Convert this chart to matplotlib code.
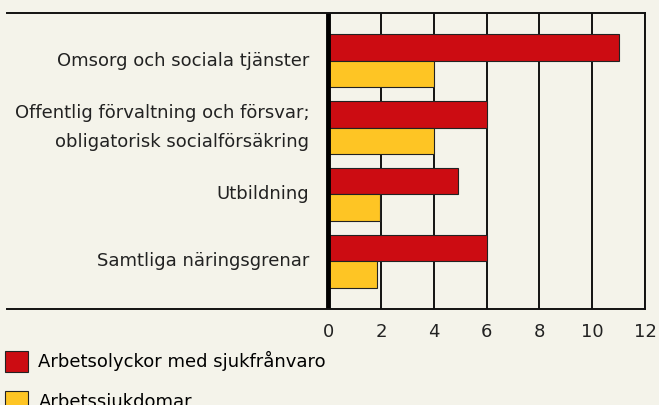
import matplotlib

matplotlib.use("Agg")
import matplotlib.pyplot as plt
import numpy as np
from matplotlib.lines import Line2D

categories = [
    "Omsorg och sociala tjänster",
    "Offentlig förvaltning och försvar;\nobligatorisk socialförsäkring",
    "Utbildning",
    "Samtliga näringsgrenar",
]
olyckor = [11.0, 6.0, 4.9, 6.0]
sjukdomar = [4.0, 4.0, 1.95, 1.85]
series_names = ["Arbetsolyckor med sjukfrånvaro", "Arbetssjukdomar"]
xticks = [0, 2, 4, 6, 8, 10, 12]

BG = "#f4f3ea"
RED = "#cc0c12"
YEL = "#fec524"

W, H = 659, 405
fig = plt.figure(figsize=(W / 100, H / 100), dpi=100, facecolor=BG)
ax = fig.add_axes([326 / W, 1 - 309 / H, (645 - 326) / W, (309 - 13) / H], facecolor=BG)

y = np.arange(len(categories))
bh = 0.39
b1 = ax.barh(y - bh / 2, olyckor, height=bh, color=RED, edgecolor="#222222", lw=0.8, zorder=3)
b2 = ax.barh(y + bh / 2, sjukdomar, height=bh, color=YEL, edgecolor="#222222", lw=0.8, zorder=3)

ax.set_xlim(-0.08, 12)
ax.set_ylim(3.71, -0.71)
ax.set_xticks(xticks)
ax.set_xticklabels([str(t) for t in xticks], fontsize=13, color="#222222")
ax.set_yticks(y)
ax.set_yticklabels(categories, fontsize=13, color="#222222", linespacing=1.8, va="center")
ax.tick_params(length=0, pad=12)
ax.tick_params(axis="x", pad=10)
ax.grid(axis="x", color="#111111", lw=1.4, zorder=1)
ax.axvline(0, color="black", lw=3.5, zorder=4)
for s in ("top", "bottom", "left"):
    ax.spines[s].set_visible(False)
ax.spines["right"].set_color("#111111")
ax.spines["right"].set_linewidth(1.4)

# linjer över hela bredden
for yy in (13, 309):
    fig.add_artist(Line2D([7 / W, 645 / W], [1 - yy / H, 1 - yy / H], color="#111111", lw=1.4))

fig.legend([b1, b2], series_names, loc="upper left", bbox_to_anchor=(5 / W, 1 - 351 / H),
           frameon=False, fontsize=13, handlelength=1.3, handleheight=1.4,
           labelspacing=1.05, handletextpad=0.55, borderaxespad=0, borderpad=0)

fig.savefig("out.png", dpi=100, facecolor=BG)
